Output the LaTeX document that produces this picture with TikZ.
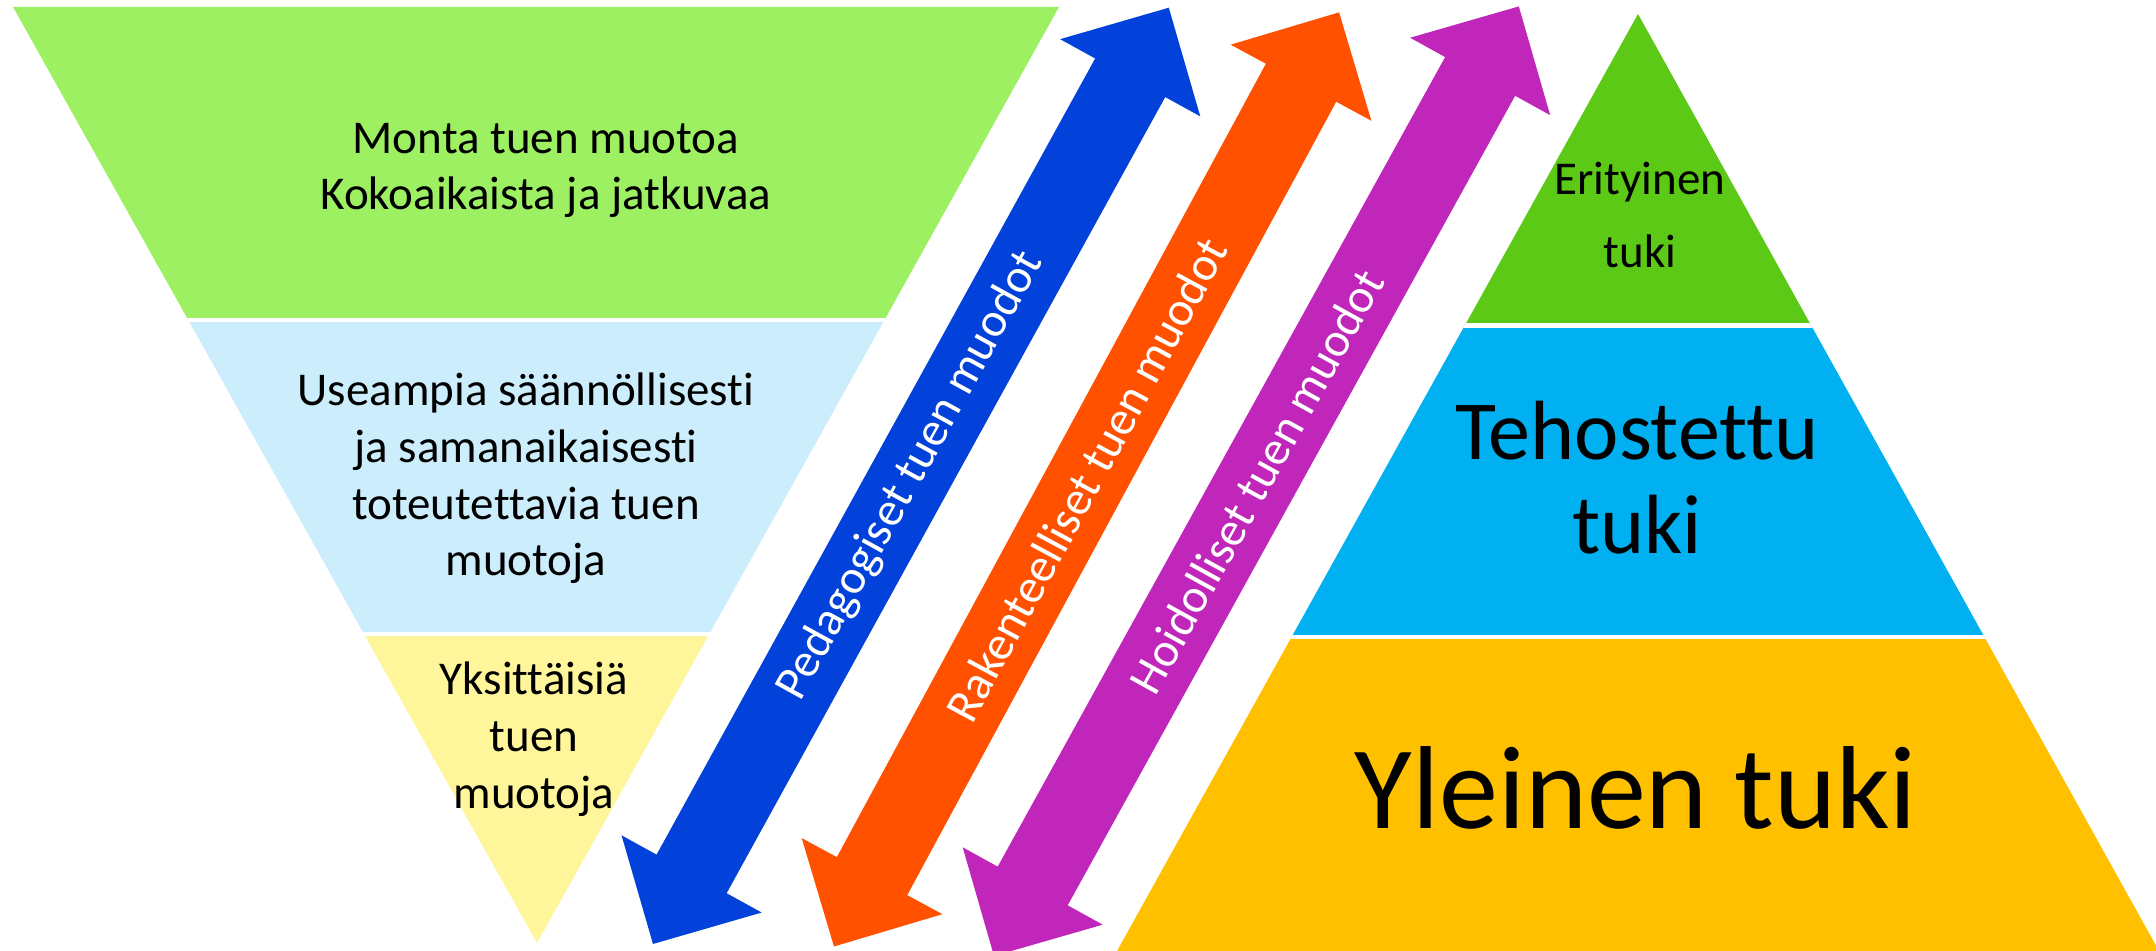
\documentclass[tikz,border=0pt]{standalone}
\usepackage{fontspec}
\setmainfont{Carlito}[Ligatures=NoCommon]
\usepackage{tikz}

\definecolor{vaaleavihrea}{HTML}{9CF062}
\definecolor{vaaleasininen}{HTML}{CCEDFC}
\definecolor{vaaleakeltainen}{HTML}{FFF59B}
\definecolor{vihrea}{HTML}{5CC916}
\definecolor{sininen}{HTML}{00B0F0}
\definecolor{kulta}{HTML}{FFC000}
\definecolor{nuolisininen}{HTML}{0242DA}
\definecolor{nuolioranssi}{HTML}{FF5100}
\definecolor{nuolivioletti}{HTML}{C026B9}

\tikzset{
  teksti/.style={align=center, anchor=base, inner sep=0pt,
    font=\fontsize{13.37}{16.2}\selectfont},
  nuoliteksti/.style={text=white, inner sep=0pt, transform shape,
    font=\fontsize{13.66}{16}\selectfont},
  raja/.style={white, line width=1.3pt}
}

\begin{document}
\begin{tikzpicture}[x=0.01cm,y=0.01cm]
\useasboundingbox (0,0) rectangle (2156,951);
\clip (0,0) rectangle (2156,951);

% vasen kolmio
\begin{scope}
\clip (13,944) -- (1059,944) -- (537,8) -- cycle;
\fill[vaaleavihrea] (0,631) rectangle (1100,951);
\fill[vaaleasininen] (0,317) rectangle (1100,631);
\fill[vaaleakeltainen] (0,0) rectangle (1100,317);
\draw[raja] (0,631) -- (1100,631);
\draw[raja] (0,317) -- (1100,317);
\end{scope}

% base = viimeisen rivin perusviiva
\node[teksti] (monta) at (546,741) {Monta tuen muotoa\\Kokoaikaista ja jatkuvaa};
\node[teksti] (useampia) at (526,375) {Useampia säännöllisesti\\ja samanaikaisesti\\toteutettavia tuen\\muotoja};
\node[teksti] (yksittaisia) at (534,142.7) {Yksittäisiä\\tuen\\muotoja};

% oikea kolmio
\begin{scope}
\clip (1117,0) -- (1638,937) -- (2159,0) -- cycle;
\fill[vihrea] (1100,625.5) rectangle (2160,951);
\fill[sininen] (1100,314) rectangle (2160,625.5);
\fill[kulta] (1100,0) rectangle (2160,314);
\draw[raja] (1100,625.5) -- (2160,625.5);
\draw[raja] (1100,314) -- (2160,314);
\end{scope}

\node[teksti, font=\fontsize{13.37}{20.7}\selectfont] (erityinen) at (1640,683.3) {Erityinen\\tuki};
\node[teksti, font=\fontsize{23.9}{26.55}\selectfont] (tehostettu) at (1637,397.7) {Tehostettu\\tuki};
\node[teksti, font=\fontsize{33.57}{40}\selectfont] (yleinen) at (1636,122.7) {Yleinen tuki};

% nuolet
\begin{scope}[shift={(653,7)}, rotate=61.15]
\fill[nuolisininen] (0,0) -- (80,80) -- (80,40) -- (989,40) -- (989,80) -- (1069,0)
  -- (989,-80) -- (989,-40) -- (80,-40) -- (80,-80) -- cycle;
\node[nuoliteksti] (pedagogiset) at (534.5,0) {Pedagogiset tuen muodot};
\end{scope}

\begin{scope}[shift={(834,4.5)}, rotate=61.6]
\fill[nuolioranssi] (0,0) -- (80,80) -- (80,40) -- (982,40) -- (982,80) -- (1062,0)
  -- (982,-80) -- (982,-40) -- (80,-40) -- (80,-80) -- cycle;
\node[nuoliteksti] (rakenteelliset) at (531,0) {Rakenteelliset tuen muodot};
\end{scope}

\begin{scope}[shift={(994,-5)}, rotate=61.07]
\fill[nuolivioletti] (0,0) -- (80,80) -- (80,40) -- (1005,40) -- (1005,80) -- (1085,0)
  -- (1005,-80) -- (1005,-40) -- (80,-40) -- (80,-80) -- cycle;
\node[nuoliteksti] (hoidolliset) at (542.5,0) {Hoidolliset tuen muodot};
\end{scope}

\end{tikzpicture}
\end{document}
